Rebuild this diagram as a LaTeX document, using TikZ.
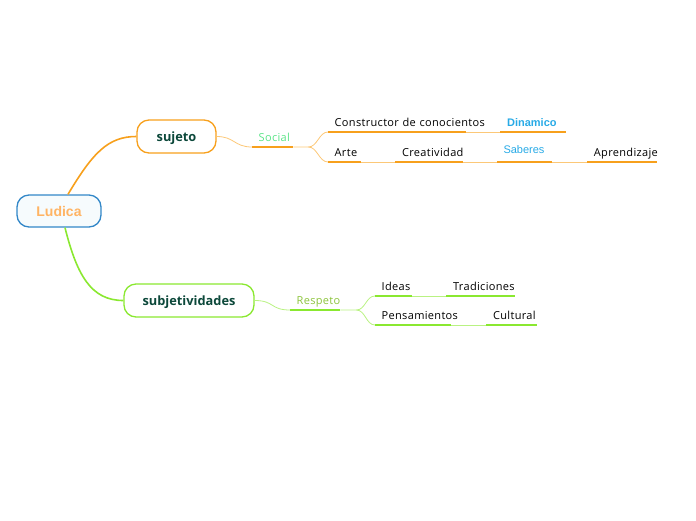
\documentclass[tikz,border=0pt]{standalone}
\usepackage{fontspec}
\setmainfont{Open Sans}
\newfontfamily\wordfont[LetterSpace=3]{Open Sans}
\newfontfamily\arialfont{Liberation Sans}
\usetikzlibrary{positioning}
\definecolor{branchorange}{RGB}{247,160,28}
\definecolor{lightorange}{RGB}{252,200,120}
\definecolor{branchgreen}{RGB}{138,232,48}
\definecolor{lightgreen}{RGB}{185,242,130}
\definecolor{rootblue}{RGB}{50,135,200}
\definecolor{rootfill}{RGB}{246,251,253}
\definecolor{roottext}{RGB}{255,180,100}
\definecolor{darkteal}{RGB}{12,72,58}
\definecolor{linkblue}{RGB}{40,170,230}
\definecolor{socialgreen}{RGB}{90,228,135}
\definecolor{olivegreen}{RGB}{140,196,60}

\begin{document}
\begin{tikzpicture}[
    x=1pt, y=-1pt,
    box/.style={draw, rounded corners=12pt, line width=1.3pt, minimum height=33pt,
                text height=10pt, text depth=1pt,
                font=\bfseries\fontsize{12.8}{15}\selectfont, text=darkteal},
    word/.style={text width=#1, align=left, inner xsep=0pt, inner ysep=2.5pt,
                 text height=8pt, text depth=2.5pt,
                 execute at begin node={\hspace*{6.5pt}\hbox\bgroup},
                 execute at end node={\egroup},
                 font=\wordfont\fontsize{11}{13}\selectfont},
    link/.style={font=\arialfont\fontsize{11}{13}\selectfont, text=linkblue},
    uline/.style={line width=2pt},
    thinline/.style={line width=0.8pt},
    mainline/.style={line width=1.6pt},
    node distance=34pt,
]
\useasboundingbox (0,0) rectangle (696,520);

% central topic and main branches
\node[box, fill=rootfill, draw=rootblue, minimum width=84pt, minimum height=32pt,
      text height=10pt, text depth=0pt,
      font=\arialfont\bfseries\fontsize{14}{16}\selectfont, text=roottext] (ludica) at (59,211) {Ludica};
\node[box, draw=branchorange, minimum width=79pt] (sujeto) at (176.5,136.5) {sujeto};
\node[box, draw=branchgreen, minimum width=130pt] (subjet) at (189,300.5) {subjetividades};

% sujeto side (orange)
\node[word=41pt, anchor=south west, text=socialgreen] (social) at (252,147) {Social};
\node[word=138pt, anchor=south west] (cons) at (328,132) {Constructor de conocientos};
\node[word=65pt, link, font=\arialfont\bfseries\fontsize{11}{13}\selectfont, right=of cons] (dinamico) {Dinamico};
\node[word=33pt, anchor=south west] (arte) at (328,162) {Arte};
\node[word=67pt, right=of arte] (creat) {Creatividad};
\node[word=55pt, link, right=of creat] (saberes) {\raisebox{3pt}{Saberes}};
\node[word=69pt, right=35pt of saberes] (aprend) {Aprendizaje};

% subjetividades side (green)
\node[word=50pt, anchor=south west, text=olivegreen] (respeto) at (290,310) {Respeto};
\node[word=37pt, anchor=south west] (ideas) at (375,296) {Ideas};
\node[word=68pt, right=of ideas] (trad) {Tradiciones};
\node[word=76pt, anchor=south west] (pens) at (375,325) {Pensamientos};
\node[word=50pt, right=35pt of pens] (cult) {Cultural};

% underlines
\foreach \n in {social,cons,dinamico,arte,creat,saberes,aprend}
    \draw[uline, branchorange] (\n.south west) -- (\n.south east);
\foreach \n in {respeto,ideas,trad,pens,cult}
    \draw[uline, branchgreen] (\n.south west) -- (\n.south east);

% main branches
\draw[mainline, branchorange] ([xshift=9pt]ludica.north) .. controls +(25,-42) and +(-28,0) .. (sujeto.west);
\draw[mainline, branchgreen] ([xshift=6pt]ludica.south) .. controls +(12,48) and +(-32,0) .. (subjet.west);

% orange connectors
\draw[thinline, lightorange] (sujeto.east) .. controls +(18,0) and +(-18,0) .. (social.south west);
\draw[thinline, lightorange] (social.south east) -- ++(15,0) coordinate (sfork)
    .. controls +(9,0) and +(-9,0) .. (cons.south west);
\draw[thinline, lightorange] (sfork) .. controls +(9,0) and +(-9,0) .. (arte.south west);
\draw[thinline, lightorange] (cons.south east) -- (dinamico.south west);
\draw[thinline, lightorange] (arte.south east) -- (creat.south west);
\draw[thinline, lightorange] (creat.south east) -- (saberes.south west);
\draw[thinline, lightorange] (saberes.south east) -- (aprend.south west);

% green connectors
\draw[thinline, lightgreen] (subjet.east) .. controls +(20,0) and +(-20,0) .. (respeto.south west);
\draw[thinline, lightgreen] (respeto.south east) -- ++(16,0) coordinate (rfork)
    .. controls +(9,0) and +(-9,0) .. (ideas.south west);
\draw[thinline, lightgreen] (rfork) .. controls +(9,0) and +(-9,0) .. (pens.south west);
\draw[thinline, lightgreen] (ideas.south east) -- (trad.south west);
\draw[thinline, lightgreen] (pens.south east) -- (cult.south west);

\end{tikzpicture}
\end{document}
